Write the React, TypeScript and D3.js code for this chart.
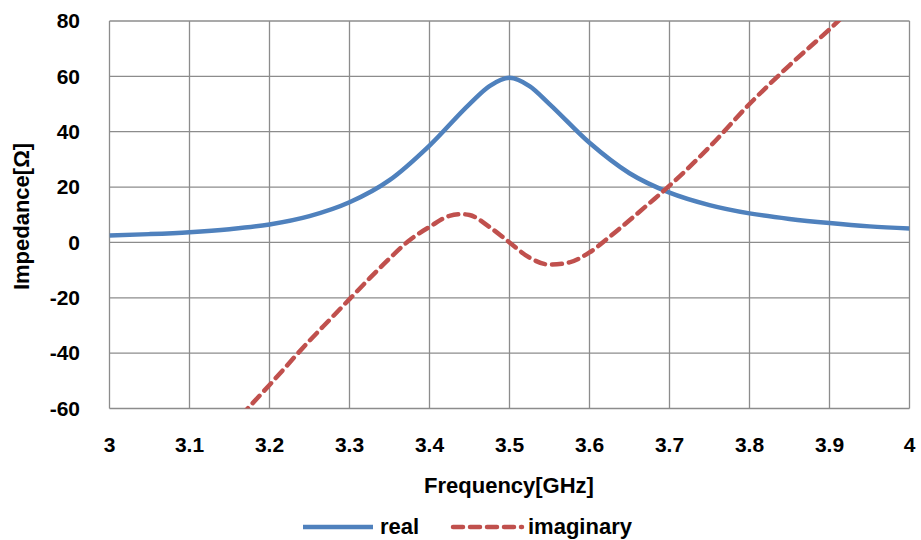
import React from "react";
import * as d3 from "d3";

const freqReal = [3.0, 3.05, 3.1, 3.15, 3.2, 3.25, 3.3, 3.35, 3.4, 3.45, 3.475, 3.5, 3.525, 3.55, 3.6, 3.65, 3.7, 3.75, 3.8, 3.85, 3.9, 3.95, 4.0];
const realValues = [2.5, 3.0, 3.7, 4.8, 6.5, 9.5, 14.5, 22.5, 35, 50, 56.5, 59.5, 56.5, 50, 36, 25, 18, 13.5, 10.5, 8.5, 7, 5.8, 5];

const freqImag = [3.15, 3.2, 3.25, 3.275, 3.3, 3.325, 3.35, 3.375, 3.4, 3.425, 3.44, 3.45, 3.475, 3.5, 3.525, 3.55, 3.575, 3.6, 3.625, 3.65, 3.675, 3.7, 3.75, 3.8, 3.85, 3.9, 3.95];
const imagValues = [-67, -51.5, -35.5, -28, -20.5, -13, -5.8, 0.8, 5.6, 9.6, 10.2, 9.9, 5.6, 0, -5.5, -8, -7.2, -3.6, 2, 8, 14.2, 20.5, 34.5, 50, 64, 77, 91];

const xTicks = [3, 3.1, 3.2, 3.3, 3.4, 3.5, 3.6, 3.7, 3.8, 3.9, 4];
const yTicks = [-60, -40, -20, 0, 20, 40, 60, 80];

const W = 921;
const H = 540;
const L = 109.5, R = 909.5, T = 21, B = 408.5;
const FONT = "'Liberation Sans', Arial, sans-serif";

export default function App() {
  const x = d3.scaleLinear().domain([3, 4]).range([L, R]);
  const y = d3.scaleLinear().domain([-60, 80]).range([B, T]);
  const line = d3
    .line<[number, number]>()
    .x((d) => x(d[0]))
    .y((d) => y(d[1]))
    .curve(d3.curveMonotoneX);
  const realPath = line(freqReal.map((f, i) => [f, realValues[i]]));
  const imagPath = line(freqImag.map((f, i) => [f, imagValues[i]]));

  return (
    <svg width={W} height={H} style={{ position: "absolute", left: 0, top: 0 }}>
      <defs>
        <clipPath id="plot">
          <rect x={L} y={T} width={R - L} height={B - T} />
        </clipPath>
      </defs>
      <rect x={0} y={0} width={W} height={H} fill="#fff" />
      {xTicks.map((t) => (
        <line key={"gx" + t} x1={x(t)} x2={x(t)} y1={T} y2={B} stroke="#8c8c8c" strokeWidth={1.3} />
      ))}
      {yTicks.map((t) => (
        <line key={"gy" + t} x1={L} x2={R} y1={y(t)} y2={y(t)} stroke="#8c8c8c" strokeWidth={1.3} />
      ))}
      <g clipPath="url(#plot)">
        <path d={realPath || ""} fill="none" stroke="#4f81bd" strokeWidth={4.5} strokeLinejoin="round" />
        <path d={imagPath || ""} fill="none" stroke="#c0504d" strokeWidth={4.5} strokeDasharray="10 7" strokeLinecap="round" />
      </g>
      {yTicks.map((t) => (
        <text key={"ty" + t} x={80} y={y(t)} dy="0.35em" textAnchor="end" fontFamily={FONT} fontWeight="bold" fontSize={21} fill="#000">
          {t}
        </text>
      ))}
      {xTicks.map((t) => (
        <text key={"tx" + t} x={x(t)} y={445} dy="0.35em" textAnchor="middle" fontFamily={FONT} fontWeight="bold" fontSize={21} fill="#000">
          {t}
        </text>
      ))}
      <text x={509} y={493} textAnchor="middle" fontFamily={FONT} fontWeight="bold" fontSize={22} fill="#000">
        Frequency[GHz]
      </text>
      <text transform="translate(29,216.5) rotate(-90)" textAnchor="middle" fontFamily={FONT} fontWeight="bold" fontSize={22} fill="#000">
        Impedance[Ω]
      </text>
      <line x1={303} x2={373} y1={527} y2={527} stroke="#4f81bd" strokeWidth={4.5} />
      <text x={380} y={534} fontFamily={FONT} fontWeight="bold" fontSize={22} fill="#000">real</text>
      <line x1={453} x2={522} y1={527} y2={527} stroke="#c0504d" strokeWidth={4.5} strokeDasharray="10 7" strokeLinecap="round" />
      <text x={528} y={534} fontFamily={FONT} fontWeight="bold" fontSize={22} fill="#000">imaginary</text>
    </svg>
  );
}
